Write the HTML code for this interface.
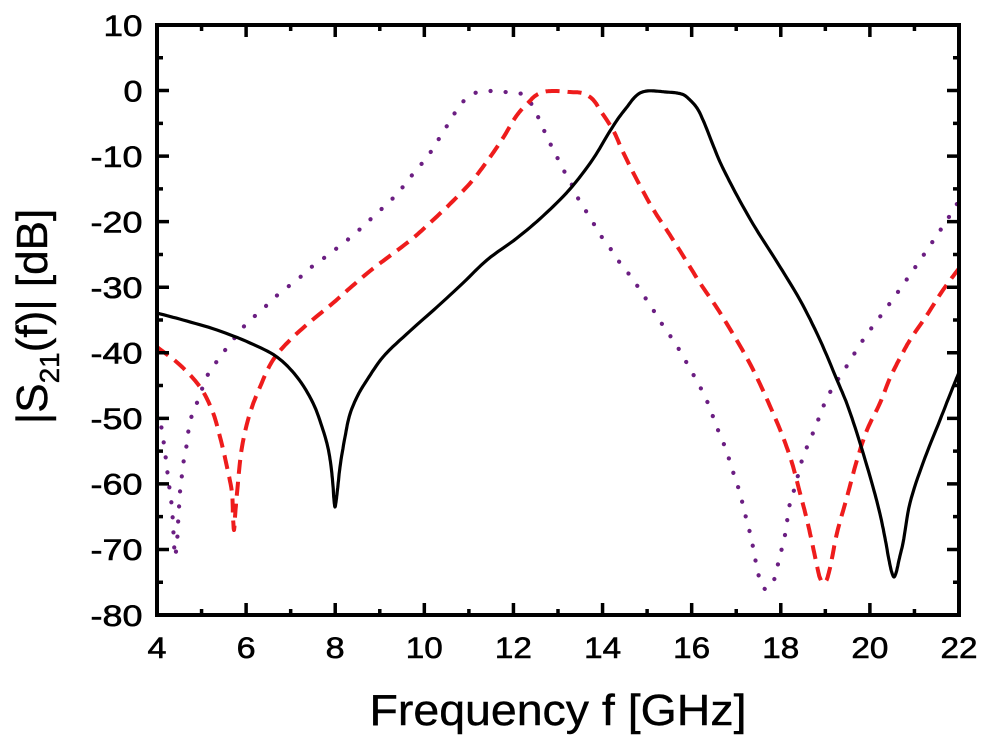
<!DOCTYPE html>
<html>
<head>
<meta charset="utf-8">
<style>
html,body{margin:0;padding:0;background:#fff;}
svg{display:block;}
text{font-family:"Liberation Sans",Arial,sans-serif;fill:#000;}
</style>
</head>
<body>
<svg width="990" height="744" viewBox="0 0 990 744" xmlns="http://www.w3.org/2000/svg">
<rect width="990" height="744" fill="#fff"/>
<defs>
<clipPath id="pc"><rect x="157" y="25" width="802" height="590"/></clipPath>
</defs>

<g clip-path="url(#pc)" fill="none" stroke-linejoin="round">
<!-- purple dotted -->
<polyline class="sm" stroke="#6b1e82" stroke-width="4.2" stroke-linecap="round" stroke-dasharray="0.1 15"
points="157,413 160,422 162,430 164,445 166,460 168,477 170,492 172,508 173,525 174,542 175,557 177,542 178,525 179,508 180,492 182,475 184,459 187,443 189,427 193,412 200,396 205,380 215,364 226,349 237,335 248,322 262,310 273,299 285,289 297,280 309,269 328,255 351,237 374,216 398,193 408,180 419,167 430,153 440,137 450,121 460,105 466,99 472,94 480,92 487,91 505,92 515,93 522,94 527,98 532,105 540,121 547,137 555,153 563,169 572,185 580,202 590,217 599,233 610,248 620,263 632,278 642,293 652,308 662,324 671,337 680,351 689,367 698,383 707,401 718,430 725,447 730,462 735,478 740,493 744,510 748,525 752,542 755,558 758,573 762,585 765,589 770,587 773,583 777,568 781,552 785,535 790,503 795,487 803,457 810,440 817,423 823,407 833,387 843,372 863,340 885,310 905,282 927,250 947,220 960,199"/>
<!-- red dashed -->
<polyline class="sm" stroke="#ee1c1c" stroke-width="4" stroke-dasharray="14 8"
points="157,347 180,365 200,387 212,410 220,437 227,467 232,493 233,517 234,530 235,517 237,493 242,447 250,413 260,387 273,360 290,340 310,322 333,303 350,288 370,271 391,255 412,239 432,221 453,201 472,181 488,160 503,138 515,118 522,109 528,103 535,96 543,92 555,91 570,92 582,93 590,97 595,102 600,110 613,130 623,152 637,180 653,209 668,232 682,254 700,283 717,308 733,334 748,360 760,384 773,413 783,437 792,463 800,493 807,520 813,547 817,566 820,578 823,583 826,581 829,572 832,558 837,533 847,497 857,460 867,430 880,403 890,378 900,358 910,340 927,315 943,290 960,267"/>
<!-- black solid -->
<polyline class="sm" stroke="#000" stroke-width="3.2"
points="157,313 183,320 217,330 250,343 277,357 297,377 313,403 323,430 328,448 331,466 333,486 334,500 335,507 336,502 338,485 340,467 345,437 350,414 358,395 367,380 383,357 410,331 437,307 463,283 487,260 517,238 543,216 570,189 593,159 610,131 620,116 627,107 634,98 640,93 647,91 655,91 666,92 677,93 684,95 690,100 697,108 703,120 713,145 720,162 733,188 753,224 777,262 800,300 820,340 837,380 847,404 860,443 873,487 880,514 885,538 889,560 892,573 894,577 896,573 899,560 903,543 910,503 923,463 940,420 953,387 960,370"/>
</g>

<!-- frame -->
<rect x="157" y="25" width="802" height="590" fill="none" stroke="#000" stroke-width="4"/>

<!-- ticks -->
<path fill="none" stroke="#000" stroke-width="3.5" d="
M201.56 615v-6 M246.11 615v-12 M290.67 615v-6 M335.22 615v-12 M379.78 615v-6 M424.33 615v-12 M468.89 615v-6 M513.44 615v-12 M558 615v-6 M602.56 615v-12 M647.11 615v-6 M691.67 615v-12 M736.22 615v-6 M780.78 615v-12 M825.33 615v-6 M869.89 615v-12 M914.44 615v-6
M201.56 25v6 M246.11 25v12 M290.67 25v6 M335.22 25v12 M379.78 25v6 M424.33 25v12 M468.89 25v6 M513.44 25v12 M558 25v6 M602.56 25v12 M647.11 25v6 M691.67 25v12 M736.22 25v6 M780.78 25v12 M825.33 25v6 M869.89 25v12 M914.44 25v6
M157 57.78h6 M157 90.56h12 M157 123.33h6 M157 156.11h12 M157 188.89h6 M157 221.67h12 M157 254.44h6 M157 287.22h12 M157 320h6 M157 352.78h12 M157 385.56h6 M157 418.33h12 M157 451.11h6 M157 483.89h12 M157 516.67h6 M157 549.44h12 M157 582.22h6
M959 57.78h-6 M959 90.56h-12 M959 123.33h-6 M959 156.11h-12 M959 188.89h-6 M959 221.67h-12 M959 254.44h-6 M959 287.22h-12 M959 320h-6 M959 352.78h-12 M959 385.56h-6 M959 418.33h-12 M959 451.11h-6 M959 483.89h-12 M959 516.67h-6 M959 549.44h-12 M959 582.22h-6
"/>

<!-- y tick labels -->
<g font-size="30" text-anchor="end" stroke="#000" stroke-width="0.6">
<text x="142.5" y="35.8" textLength="39" lengthAdjust="spacingAndGlyphs">10</text>
<text x="142.5" y="101.3" textLength="19" lengthAdjust="spacingAndGlyphs">0</text>
<text x="142.5" y="166.9" textLength="52" lengthAdjust="spacingAndGlyphs">-10</text>
<text x="142.5" y="232.4" textLength="52" lengthAdjust="spacingAndGlyphs">-20</text>
<text x="142.5" y="298" textLength="52" lengthAdjust="spacingAndGlyphs">-30</text>
<text x="142.5" y="363.5" textLength="52" lengthAdjust="spacingAndGlyphs">-40</text>
<text x="142.5" y="429.1" textLength="52" lengthAdjust="spacingAndGlyphs">-50</text>
<text x="142.5" y="494.6" textLength="52" lengthAdjust="spacingAndGlyphs">-60</text>
<text x="142.5" y="560.2" textLength="52" lengthAdjust="spacingAndGlyphs">-70</text>
<text x="142.5" y="625.8" textLength="52" lengthAdjust="spacingAndGlyphs">-80</text>
</g>

<!-- x tick labels -->
<g font-size="30" text-anchor="middle" stroke="#000" stroke-width="0.6">
<text x="157" y="658" textLength="19" lengthAdjust="spacingAndGlyphs">4</text>
<text x="246.1" y="658" textLength="19" lengthAdjust="spacingAndGlyphs">6</text>
<text x="335.2" y="658" textLength="19" lengthAdjust="spacingAndGlyphs">8</text>
<text x="424.3" y="658" textLength="37" lengthAdjust="spacingAndGlyphs">10</text>
<text x="513.4" y="658" textLength="37" lengthAdjust="spacingAndGlyphs">12</text>
<text x="602.6" y="658" textLength="37" lengthAdjust="spacingAndGlyphs">14</text>
<text x="691.7" y="658" textLength="37" lengthAdjust="spacingAndGlyphs">16</text>
<text x="780.8" y="658" textLength="37" lengthAdjust="spacingAndGlyphs">18</text>
<text x="869.9" y="658" textLength="37" lengthAdjust="spacingAndGlyphs">20</text>
<text x="959" y="658" textLength="37" lengthAdjust="spacingAndGlyphs">22</text>
</g>

<!-- axis titles -->
<text x="558" y="725" font-size="44" text-anchor="middle" textLength="377" lengthAdjust="spacingAndGlyphs" stroke="#000" stroke-width="0.4">Frequency f [GHz]</text>
<text transform="translate(47,316.5) rotate(-90)" font-size="44" text-anchor="middle" stroke="#000" stroke-width="0.4">|S<tspan font-size="28" dy="12">21</tspan><tspan dy="-12">(f)| [dB]</tspan></text>
</svg>
<script>
(function(){
  var pls=document.querySelectorAll('polyline.sm');
  for(var k=0;k<pls.length;k++){
    var pl=pls[k];
    var raw=pl.getAttribute('points').trim().split(/\s+/);
    var P=[];
    for(var i=0;i<raw.length;i++){var a=raw[i].split(',');P.push([+a[0],+a[1]]);}
    var n=P.length; if(n<3) continue;
    var ext=[[2*P[0][0]-P[1][0],2*P[0][1]-P[1][1]]].concat(P).concat([[2*P[n-1][0]-P[n-2][0],2*P[n-1][1]-P[n-2][1]]]);
    function d(a,b){var dx=a[0]-b[0],dy=a[1]-b[1];return Math.max(Math.pow(dx*dx+dy*dy,0.25),1e-4);}
    function lerp(p,q,ta,tb,t){var w=(t-ta)/(tb-ta);return [p[0]+(q[0]-p[0])*w,p[1]+(q[1]-p[1])*w];}
    var out=[P[0][0].toFixed(1)+','+P[0][1].toFixed(1)];
    for(var s=1;s<ext.length-2;s++){
      var p0=ext[s-1],p1=ext[s],p2=ext[s+1],p3=ext[s+2];
      var t0=0,t1=t0+d(p0,p1),t2=t1+d(p1,p2),t3=t2+d(p2,p3);
      var N=8;
      for(var j=1;j<=N;j++){
        var t=t1+(t2-t1)*j/N;
        var A1=lerp(p0,p1,t0,t1,t),A2=lerp(p1,p2,t1,t2,t),A3=lerp(p2,p3,t2,t3,t);
        var B1=lerp(A1,A2,t0,t2,t),B2=lerp(A2,A3,t1,t3,t);
        var C=lerp(B1,B2,t1,t2,t);
        out.push(C[0].toFixed(1)+','+C[1].toFixed(1));
      }
    }
    pl.setAttribute('points',out.join(' '));
  }
})();
</script>
</body>
</html>
